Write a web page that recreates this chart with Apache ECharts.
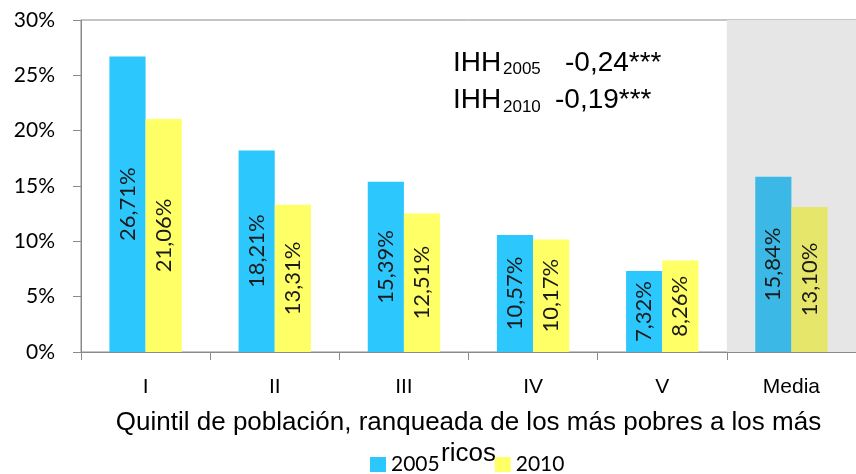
<!DOCTYPE html>
<html>
<head>
<meta charset="utf-8">
<script src="https://cdn.jsdelivr.net/npm/echarts@6/dist/echarts.min.js"></script>
<style>
html,body{margin:0;padding:0;background:#fff;}
#chart{width:856px;height:474px;}
</style>
</head>
<body>
<div id="chart"></div>
<script>
// ---- data ----
const categories = ['I', 'II', 'III', 'IV', 'V', 'Media'];
const values2005 = [26.71, 18.21, 15.39, 10.57, 7.32, 15.84];
const values2010 = [21.06, 13.31, 12.51, 10.17, 8.26, 13.10];
const seriesNames = ['2005', '2010'];
const yTicks = { min: 0, max: 30, interval: 5 };
const axisName = 'Quintil de población, ranqueada de los más pobres a los más\nricos';
const annoLabel = ['IHH', 'IHH'];
const annoYears = ['2005', '2010'];
const annoValues = ['-0,24***', '-0,19***'];

// ---- styles ----
const colors = ['#2BC7FD', '#FFFF66'];
const mediaColors = ['#3BB8E5', '#E6E66B'];
const axisColor = '#8A8A8A';

function fmt(v) { return v.toFixed(2).replace('.', ',') + '%'; }

function buildData(vals, si) {
  return vals.map((v, i) => {
    const item = { value: v };
    if (categories[i] === 'Media') item.itemStyle = { color: mediaColors[si] };
    return item;
  });
}

const chart = echarts.init(document.getElementById('chart'), null, { renderer: 'canvas' });

const annoX = [[453, 503, 565], [453, 503, 555]];
const annoY = [65, 102.5];
const graphics = [];
for (let i = 0; i < 2; i++) {
  graphics.push({ type: 'text', left: annoX[i][0], top: annoY[i] - 16, style: { text: annoLabel[i], font: '28px "Liberation Sans", Arial, sans-serif', fill: '#000' } });
  graphics.push({ type: 'text', left: annoX[i][1], top: annoY[i] - 4, style: { text: annoYears[i], font: '17px "Liberation Sans", Arial, sans-serif', fill: '#000' } });
  graphics.push({ type: 'text', left: annoX[i][2], top: annoY[i] - 16, style: { text: annoValues[i], font: '28px "Liberation Sans", Arial, sans-serif', fill: '#000' } });
}

chart.setOption({
  animation: false,
  grid: { left: 81, top: 20, width: 779, bottom: 121, show: true, borderColor: axisColor, borderWidth: 1, backgroundColor: 'transparent' },
  legend: {
    data: seriesNames,
    left: 365, top: 449,
    icon: 'rect', itemWidth: 16, itemHeight: 15, itemGap: 55,
    textStyle: { fontFamily: 'Lato', fontSize: 21, color: '#000' }
  },
  xAxis: {
    type: 'category',
    data: categories,
    axisLine: { lineStyle: { color: axisColor, width: 1 } },
    axisTick: { show: true, length: 8, alignWithLabel: false, lineStyle: { color: axisColor } },
    axisLabel: { margin: 25, fontFamily: '"Liberation Sans", Arial, sans-serif', fontSize: 21, color: '#000' },
    splitArea: { show: true, areaStyle: { color: ['rgba(0,0,0,0)', 'rgba(0,0,0,0)', 'rgba(0,0,0,0)', 'rgba(0,0,0,0)', 'rgba(0,0,0,0)', '#E6E6E6'] } },
    name: axisName,
    nameLocation: 'middle',
    nameGap: 55,
    nameTextStyle: { fontFamily: '"Liberation Sans", Arial, sans-serif', fontSize: 26, lineHeight: 31, color: '#000', align: 'center' }
  },
  yAxis: {
    type: 'value',
    min: yTicks.min, max: yTicks.max, interval: yTicks.interval,
    axisLine: { show: true, lineStyle: { color: axisColor, width: 1 } },
    axisTick: { show: true, length: 8, lineStyle: { color: axisColor } },
    axisLabel: { formatter: '{value}%', margin: 26, fontFamily: 'Lato', fontSize: 21, color: '#000' },
    splitLine: { show: false }
  },
  series: [0, 1].map(si => ({
    name: seriesNames[si],
    type: 'bar',
    data: buildData(si === 0 ? values2005 : values2010, si),
    itemStyle: { color: colors[si] },
    barGap: '0%',
    barCategoryGap: '44%',
    label: {
      show: true, position: 'inside', rotate: 90,
      formatter: p => fmt(p.value),
      fontFamily: 'Lato', fontSize: 22, color: '#1a1a1a'
    }
  })),
  graphic: graphics
});
</script>
</body>
</html>
